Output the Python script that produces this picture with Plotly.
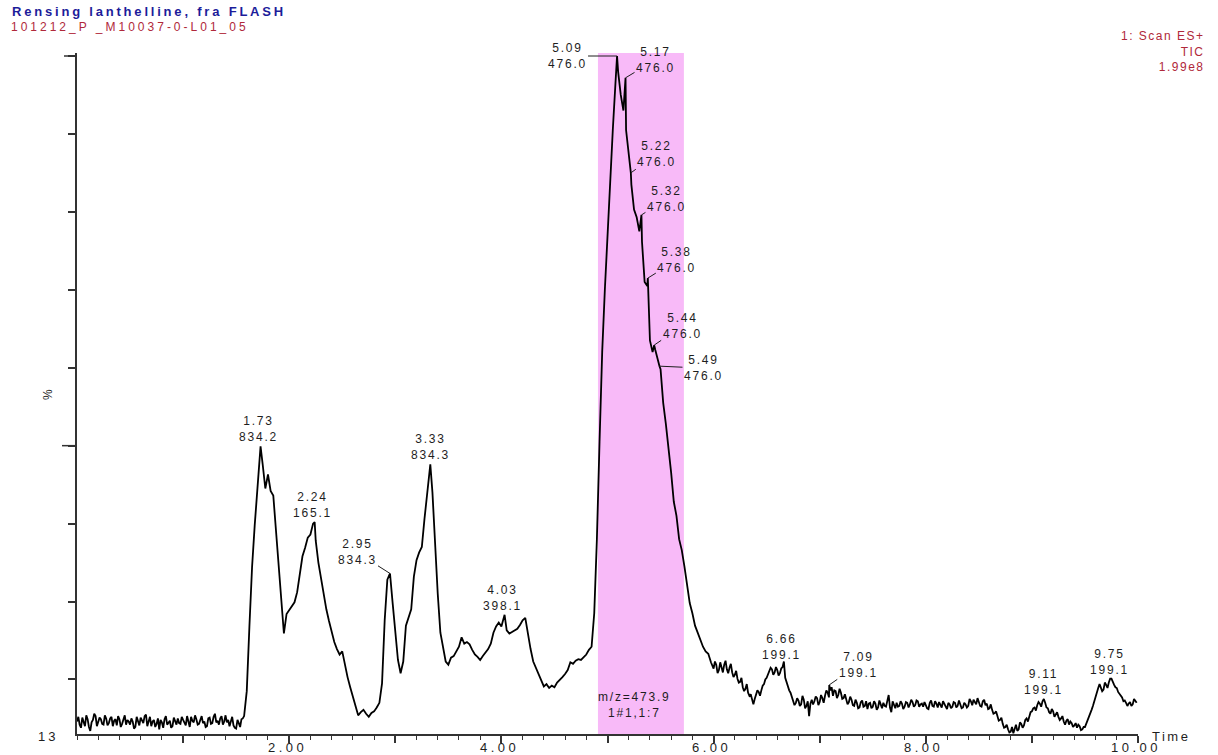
import numpy as np
import plotly.graph_objects as go

# ---- run information -------------------------------------------------------
run_title = "Rensing lanthelline, fra FLASH"
run_file = "101212_P _M10037-0-L01_05"
scan_info = ["1: Scan ES+", "TIC", "1.99e8"]
window_text = ["m/z=473.9", "1#1,1:7"]
window_start = 4.91   # min, combined-spectrum window
window_end = 5.72

# ---- TIC trace (% of 1.99e8), one row per 0.5 min, scans every 0.025 min ----
scan_step = 0.025
tic_rows = [
    [14.6, 14.2, 15.1, 14.0, 14.9, 13.4, 14.8, 15.3, 14.5, 14.9, 14.2, 15.0, 14.4, 15.2, 14.7, 14.1, 14.9, 14.3, 15.4, 14.8],
    [14.2, 14.6, 13.9, 14.7, 15.1, 14.4, 15.5, 14.6, 14.0, 14.8, 14.3, 13.6, 14.5, 14.9, 14.2, 14.7, 14.0, 14.6, 15.0, 14.3],
    [14.8, 14.1, 14.6, 15.2, 14.5, 14.9, 14.3, 15.3, 14.6, 14.0, 15.1, 14.4, 15.6, 14.7, 15.0, 14.2, 15.4, 14.8, 14.5, 14.1],
    [13.7, 14.4, 14.9, 15.3, 18.5, 26.8, 34.4, 39.8, 44.6, 49.9, 47.6, 44.5, 46.3, 44.2, 43.6, 39.2, 34.5, 29.6, 25.9, 28.4],
    [28.9, 29.4, 29.9, 31.2, 33.5, 35.8, 36.9, 38.2, 38.6, 40.0, 37.8, 35.0, 33.0, 30.8, 29.0, 27.5, 26.0, 24.8, 23.9, 23.2],
    [23.6, 21.9, 20.3, 19.0, 17.8, 16.5, 15.4, 15.8, 16.1, 15.6, 15.2, 15.7, 15.9, 16.4, 17.0, 19.5, 27.6, 32.8, 33.5, 29.8],
    [25.9, 22.5, 20.8, 22.3, 26.9, 27.9, 29.0, 33.2, 35.3, 36.3, 37.0, 40.6, 44.0, 47.4, 44.0, 37.0, 31.0, 26.0, 24.0, 22.3],
    [21.9, 22.8, 23.0, 23.6, 24.2, 25.4, 24.6, 24.8, 24.5, 23.8, 23.2, 22.9, 22.5, 23.0, 23.4, 23.9, 24.6, 26.0, 26.8, 27.3],
    [26.8, 28.2, 26.3, 25.9, 26.1, 26.3, 26.5, 27.0, 27.6, 27.9, 25.6, 23.9, 22.3, 21.5, 20.6, 19.8, 19.1, 19.4, 18.9, 19.2],
    [19.0, 19.6, 19.9, 20.3, 20.7, 21.2, 22.2, 22.0, 22.4, 22.6, 22.5, 22.8, 23.2, 23.8, 24.2, 28.5, 38.0, 50.5, 62.0, 70.0],
    [77.5, 84.5, 90.5, 96.5, 98.0, 95.0, 93.0, 90.5, 87.8, 83.5, 80.3, 79.3, 77.5, 76.2, 71.0, 70.5, 63.5, 62.0, 62.3, 60.8],
    [59.8, 55.5, 52.8, 49.8, 46.5, 42.8, 41.0, 38.0, 36.6, 34.5, 31.9, 29.8, 28.5, 26.9, 26.0, 25.0, 24.2, 23.6, 23.3, 22.2],
    [21.4, 21.9, 21.2, 21.6, 21.9, 21.3, 21.5, 20.9, 20.6, 20.1, 19.7, 19.0, 18.8, 18.3, 18.1, 16.8, 18.0, 18.4, 18.6, 19.4],
    [20.2, 21.0, 21.3, 20.9, 21.2, 20.8, 21.6, 20.2, 19.1, 18.3, 17.4, 17.0, 17.3, 16.8, 17.4, 16.6, 15.3, 17.4, 17.2, 17.6],
    [17.1, 17.6, 17.9, 18.3, 18.6, 17.9, 18.5, 18.0, 18.3, 17.6, 17.5, 17.1, 17.4, 16.6, 17.0, 16.4, 17.3, 16.6, 16.2, 17.0],
    [16.5, 16.9, 16.4, 16.8, 17.0, 16.5, 18.0, 15.8, 16.7, 17.0, 16.6, 16.9, 16.5, 17.0, 16.8, 17.1, 16.7, 17.2, 16.8, 16.5],
    [16.7, 16.2, 17.3, 16.5, 16.9, 17.1, 16.4, 16.9, 16.2, 16.8, 16.5, 17.0, 16.6, 16.9, 16.4, 16.8, 16.6, 17.2, 17.4, 16.8],
    [17.1, 16.5, 17.4, 16.9, 16.3, 16.1, 15.7, 15.3, 14.8, 14.3, 13.9, 13.6, 13.3, 13.1, 14.2, 13.6, 14.3, 14.1, 15.0, 15.4],
    [15.9, 16.4, 16.7, 16.9, 17.2, 17.0, 16.3, 15.6, 15.9, 15.5, 15.2, 15.0, 14.6, 14.7, 14.2, 14.4, 14.1, 13.8, 14.0, 13.6],
    [13.9, 14.8, 15.6, 16.6, 17.8, 18.9, 19.0, 18.7, 19.3, 19.6, 20.0, 19.3, 18.9, 18.2, 17.7, 17.3, 16.6, 17.1, 16.8, 17.3],
]

# in-between scans (offset half a step) where the trace is noisy
early_half_start = 0.0125
early_half_rows = [
    [15.2, 13.8, 14.6, 15.4, 13.9, 14.5, 15.6, 14.0, 15.1, 14.3, 15.4, 14.1, 15.0, 14.0, 14.9, 15.3, 13.9, 15.0, 14.2, 14.6],
    [15.0, 13.7, 15.2, 14.1, 14.6, 15.3, 14.0, 15.2, 14.6, 13.9, 15.0, 14.8, 13.8, 15.3, 14.5, 13.8, 15.1, 14.2, 14.4, 15.2],
    [14.3, 15.3, 13.9, 14.7, 15.4, 14.2, 15.0, 14.4, 13.9, 15.0, 14.3, 15.2, 14.5, 14.2, 15.3, 14.6, 14.5, 14.0, 15.2, 13.8],
    [14.8, 13.9, 15.0],
]
late_half_start = 6.0125
late_half_rows = [
    [22.3, 20.8, 22.2, 20.9, 22.4, 20.8, 22.0, 20.3, 21.1, 19.6, 20.2, 18.5, 19.4, 17.9, 17.4, 17.5, 18.6, 17.9, 19.2, 20.0],
    [20.7, 21.5, 20.6, 21.6, 20.5, 21.4, 22.3, 19.6, 18.6, 17.8, 16.7, 17.6, 16.6, 17.9, 16.3, 17.2, 16.9, 16.8, 17.8, 16.7],
    [18.0, 17.0, 18.6, 17.7, 19.0, 18.6, 17.6, 18.8, 17.5, 18.1, 16.8, 17.8, 16.7, 17.4, 16.3, 17.1, 16.5, 17.2, 16.9, 16.3],
    [17.2, 16.1, 17.3, 16.3, 16.6, 17.3, 16.4, 17.2, 16.3, 16.5, 17.2, 16.2, 17.1, 16.4, 17.4, 16.5, 17.3, 16.5, 16.9, 17.1],
    [16.3, 17.0, 16.6, 17.2, 16.4, 16.7, 17.2, 16.5, 17.0, 16.3, 17.1, 16.4, 17.3, 16.3, 17.0, 16.4, 17.5, 16.7, 17.0, 17.6],
    [16.6, 17.2, 16.7, 16.2, 16.8, 15.6, 15.9, 14.7, 15.1, 13.8, 14.2, 13.2, 13.9, 13.8, 13.4, 14.5, 13.8, 14.8, 14.6, 15.8],
    [16.3, 16.0, 17.1, 16.5, 17.5, 16.4, 15.8, 16.2, 15.2, 15.8, 14.8, 15.3, 14.2, 14.9, 14.6, 13.9, 14.4, 14.2, 13.5, 13.9],
    [14.3, 15.1, 16.1, 17.2, 18.6, 19.4, 18.5, 19.6, 18.9, 20.1, 19.6, 19.0, 18.4, 18.0, 17.2, 17.0, 16.9, 16.6, 17.5, 17.0],
]

# ---- labelled apex scans: retention time, intensity %, base peak m/z -------
apex_time = [1.73, 2.24, 2.95, 3.33, 4.03, 5.09, 5.17, 5.22, 5.32, 5.38, 5.44, 5.49, 6.66, 7.09, 9.11, 9.75]
apex_pct = [49.9, 40.2, 33.6, 47.6, 28.3, 100.0, 97.2, 85.0, 79.6, 71.5, 62.9, 60.2, 22.0, 19.3, 17.5, 20.1]
apex_mz = ["834.2", "165.1", "834.3", "834.3", "398.1", "476.0", "476.0", "476.0", "476.0",
           "476.0", "476.0", "476.0", "199.1", "199.1", "199.1", "199.1"]

# x tick labels
xtick_vals = [1, 2, 3, 4, 5, 6, 7, 8, 9, 10]
xlabel_vals = [2, 4, 6, 8, 10]
xlabel_text = ["2.00", "4.00", "6.00", "8.00", "10.00"]
ytick_vals = [20, 30, 40, 50, 60, 70, 80, 90, 100]
y_floor = 13

# ---- assemble the trace -----------------------------------------------------
scans = {}


def add_scans(start, rows):
    vals = [v for row in rows for v in row]
    times = np.round(start + np.arange(len(vals)) * scan_step, 4)
    for t, v in zip(times, vals):
        scans[float(t)] = v


add_scans(0.0, tic_rows)
add_scans(early_half_start, early_half_rows)
add_scans(late_half_start, late_half_rows)
for t, v in zip(apex_time, apex_pct):
    scans[round(t, 4)] = v
trace_t = sorted(scans)
trace_v = [scans[t] for t in trace_t]

# ---- look ---------------------------------------------------------------------
FONT = "Liberation Sans, Arial, sans-serif"
INK = "#1e1e1e"
RED = "#b0283a"
BLUE = "#1c1c9a"
W, H = 1218, 755
M = dict(l=77, r=80, t=53, b=21)
plot_w = W - M["l"] - M["r"]
plot_h = H - M["t"] - M["b"]
y_top = 100 + 3 / (plot_h / 87.38)


def spaced(text, gap):
    return f"<span style='letter-spacing:{gap}px'>{text}</span>"


def block(lines, gap):
    return "<br>".join(spaced(s, gap) for s in lines)


fig = go.Figure()
fig.add_trace(go.Scatter(
    x=trace_t, y=trace_v, mode="lines",
    line=dict(color="#000000", width=1.8),
    hoverinfo="skip", showlegend=False,
))

# combined-spectrum window
fig.add_shape(type="rect", xref="x", yref="paper",
              x0=window_start, x1=window_end, y0=0, y1=1,
              fillcolor="#F8BAF8", line=dict(width=0), layer="below")

# longer y ticks at 50 % and 100 %
for yv, ln in ((50, 15), (100, 13)):
    fig.add_shape(type="line", xref="paper", yref="y",
                  x0=-ln / plot_w, x1=0, y0=yv, y1=yv,
                  line=dict(color="#333333", width=1.5))

# peak labels; leader offsets (px) for the crowded ones
leader = {2.95: (-33, -21), 5.09: (-50, 0), 5.17: (30, -18), 5.22: (26, -19),
          5.32: (25, -16), 5.38: (29, -18), 5.44: (28, -19), 5.49: (44, 2),
          7.09: (29, -20)}
nudge = {1.73: -2, 2.24: -2, 3.33: 0, 4.03: -2, 6.66: -2, 9.11: 0, 9.75: -2}
for t, p, mz in zip(apex_time, apex_pct, apex_mz):
    txt = block([f"{t:.2f}", mz], 1.8)
    if t in leader:
        ax, ay = leader[t]
        fig.add_annotation(x=t, y=p, text=txt, showarrow=True, arrowhead=0,
                           arrowwidth=1, arrowcolor=INK, ax=ax, ay=ay,
                           standoff=0, font=dict(family=FONT, size=12, color=INK))
    else:
        fig.add_annotation(x=t, y=p, text=txt, showarrow=False,
                           yanchor="bottom", xshift=nudge.get(t, 0), yshift=0,
                           font=dict(family=FONT, size=12, color=INK))

# window caption
fig.add_annotation(x=5.25, y=16.7, text=block(window_text, 1.8), showarrow=False,
                   xanchor="center", yanchor="middle",
                   font=dict(family=FONT, size=12, color=INK))

# time axis labels, set tight under the ticks
for xv, s in zip(xlabel_vals, xlabel_text):
    fig.add_annotation(x=xv, xref="x", yref="paper", y=-13 / plot_h,
                       text=spaced(s, 3.5), showarrow=False,
                       xanchor="center", yanchor="middle", xshift=-2,
                       font=dict(family=FONT, size=13, color=INK))

# header texts
fig.add_annotation(xref="paper", yref="paper", x=-67 / plot_w, y=1 + 41 / plot_h,
                   text="<b>" + spaced(run_title, 2.8) + "</b>", showarrow=False,
                   xanchor="left", yanchor="middle",
                   font=dict(family=FONT, size=13, color=BLUE))
fig.add_annotation(xref="paper", yref="paper", x=-68 / plot_w, y=1 + 26 / plot_h,
                   text=spaced(run_file, 3.0), showarrow=False,
                   xanchor="left", yanchor="middle",
                   font=dict(family=FONT, size=12, color=RED))
fig.add_annotation(xref="paper", yref="paper", x=1 + 69 / plot_w, y=1 + 26 / plot_h,
                   text=block(scan_info, 1.5), showarrow=False, align="right",
                   xanchor="right", yanchor="top",
                   font=dict(family=FONT, size=12, color=RED))

# axis captions
fig.add_annotation(xref="paper", yref="y", x=-17 / plot_w, y=y_floor,
                   text=spaced(str(y_floor), 3), showarrow=False,
                   xanchor="right", yanchor="middle", yshift=-2,
                   font=dict(family=FONT, size=13, color=INK))
fig.add_annotation(xref="paper", yref="paper", x=-29 / plot_w, y=(734 - 395) / plot_h,
                   text="%", textangle=-90, showarrow=False,
                   xanchor="center", yanchor="middle",
                   font=dict(family=FONT, size=12, color=INK))
fig.add_annotation(xref="paper", yref="paper", x=1 + 12 / plot_w, y=0,
                   text=spaced("Time", 2.5), showarrow=False,
                   xanchor="left", yanchor="middle", yshift=-2,
                   font=dict(family=FONT, size=13, color=INK))

fig.update_layout(
    width=W, height=H, margin=dict(M, autoexpand=False),
    paper_bgcolor="white", plot_bgcolor="white",
    showlegend=False,
    xaxis=dict(
        range=[0, 10], showgrid=False, zeroline=False, automargin=False,
        showline=True, linecolor="#333333", linewidth=2,
        ticks="outside", ticklen=7, tickwidth=1.5, tickcolor="#333333",
        tickvals=xtick_vals, showticklabels=False,
        minor=dict(dtick=0.2, tick0=0, ticks="outside", ticklen=4,
                   tickwidth=1.2, tickcolor="#333333", showgrid=False),
    ),
    yaxis=dict(
        range=[y_floor, y_top], showgrid=False, zeroline=False, automargin=False,
        showline=True, linecolor="#333333", linewidth=2,
        ticks="outside", ticklen=7, tickwidth=1.5, tickcolor="#333333",
        tickvals=ytick_vals, showticklabels=False,
    ),
)

fig.write_html("out.html")
